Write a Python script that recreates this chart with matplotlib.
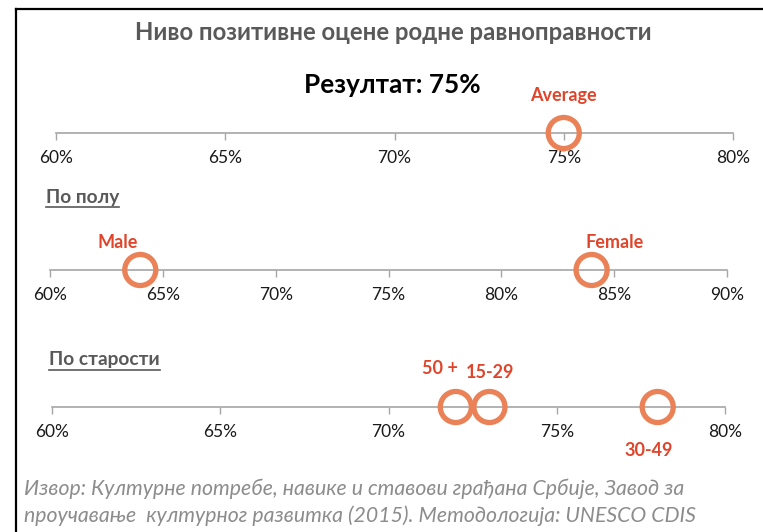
import matplotlib.pyplot as plt
from matplotlib.lines import Line2D

W, H = 763, 532

# data
avg_labels = ['Average']
avg_values = [75]
avg_ticks = [60, 65, 70, 75, 80]

gender_labels = ['Male', 'Female']
gender_values = [64, 84]
gender_ticks = [60, 65, 70, 75, 80, 85, 90]

age_labels = ['15-29', '30-49', '50 +']
age_values = [73, 78, 72]
age_ticks = [60, 65, 70, 75, 80]

# label offsets in pixels (dx, dy) from marker centre
label_offsets = {
    'Average': (0, 37),
    'Male': (-23, 28),
    'Female': (23, 28),
    '15-29': (1, 34),
    '30-49': (-9, -44),
    '50 +': (-16, 39),
}

plt.rcParams['font.family'] = ['Lato', 'DejaVu Sans']

circle_color = '#EA8157'
label_color = '#E0452B'
axis_color = '#A6A6A6'

fig = plt.figure(figsize=(W / 100, H / 100), dpi=100)
fig.patch.set_facecolor('white')


def px(x, y):
    return x / W, 1 - y / H


def scale_axis(x0, x1, yline, ticks, values, labels):
    h = 40
    ax = fig.add_axes([x0 / W, 1 - (yline + h / 2) / H, (x1 - x0) / W, h / H])
    ax.set_xlim(ticks[0], ticks[-1])
    ax.set_ylim(-1, 1)
    for s in ['top', 'left', 'right']:
        ax.spines[s].set_visible(False)
    ax.spines['bottom'].set_position(('data', 0))
    ax.spines['bottom'].set_color(axis_color)
    ax.spines['bottom'].set_linewidth(1.2)
    ax.set_yticks([])
    ax.set_xticks(ticks)
    ax.set_xticklabels([f'{t}%' for t in ticks])
    ax.tick_params(axis='x', direction='out', length=5, width=1, color=axis_color,
                   labelsize=12.5, labelcolor='#1a1a1a', pad=7)
    ax.patch.set_visible(False)
    ax.scatter(values, [0] * len(values), s=500, facecolors='none',
               edgecolors=circle_color, linewidths=3.8, zorder=3, clip_on=False)
    for v, lab in zip(values, labels):
        dx, dy = label_offsets[lab]
        ax.annotate(lab, (v, 0), xytext=(dx * 0.72, dy * 0.72), textcoords='offset points',
                    ha='center', va='center', color=label_color, fontsize=13,
                    fontweight='bold', annotation_clip=False)
    return ax


scale_axis(56, 733, 133, avg_ticks, avg_values, avg_labels)
scale_axis(50, 727, 270, gender_ticks, gender_values, gender_labels)
scale_axis(52, 725, 407, age_ticks, age_values, age_labels)

# titles
fig.text(*px(393, 33), 'Ниво позитивне оцене родне равноправности', ha='center', va='center',
         fontsize=17.2, fontweight='bold', color='#595959')
fig.text(*px(392, 85), 'Резултат: 75%', ha='center', va='center',
         fontsize=18.8, fontweight='bold', color='black')

# section headers with underline
headers = [('По полу', 46, 197), ('По старости', 49, 360)]
hdr_texts = []
for txt, x, y in headers:
    t = fig.text(*px(x, y), txt, ha='left', va='center', fontsize=13.8,
                 fontweight='bold', color='#595959')
    hdr_texts.append(t)

fig.canvas.draw()
renderer = fig.canvas.get_renderer()
for t in hdr_texts:
    bb = t.get_window_extent(renderer)
    yl = bb.y0 - 1
    fig.add_artist(Line2D([bb.x0 / W, bb.x1 / W], [yl / H, yl / H],
                          color='#595959', lw=1.2, transform=fig.transFigure))

# source note
fig.text(*px(24, 489), 'Извор: Културне потребе, навике и ставови грађана Србије, Завод за',
         ha='left', va='center', fontsize=15.3, style='italic', color='#8C8C8C')
fig.text(*px(24, 516), 'проучавање  културног развитка (2015). Методологија: UNESCO CDIS',
         ha='left', va='center', fontsize=15.3, style='italic', color='#8C8C8C')

# frame lines on left and top
fig.add_artist(Line2D([16 / W, 16 / W], [0, 1 - 9 / H], color='black', lw=1.6,
                      transform=fig.transFigure))
fig.add_artist(Line2D([16 / W, 1], [1 - 9 / H, 1 - 9 / H], color='black', lw=1.6,
                      transform=fig.transFigure))

fig.savefig('out.png', dpi=100)
